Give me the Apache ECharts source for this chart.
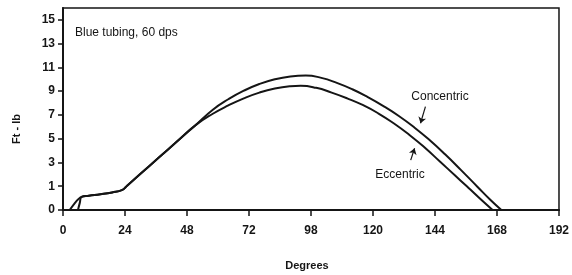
<!DOCTYPE html>
<html>
<head>
<meta charset="utf-8">
<script src="https://cdn.jsdelivr.net/npm/echarts@6/dist/echarts.min.js"></script>
<style>
  html, body { margin: 0; padding: 0; background: #fff; }
  #main { width: 572px; height: 275px; }
</style>
</head>
<body>
<div id="main"></div>
<script>
// start of each curve (degrees / ft-lb)
var concStartDeg = [5.8, 6.5];
var concStartFt = [0, 0.3];
var eccStartDeg = [2.6, 4.5, 5.8];
var eccStartFt = [0, 0.28, 0.44];
// shared part before the two curves split
var riseDeg = [7.2, 10, 14.5, 19, 23, 24.6, 30, 37.1, 44, 51.2];
var riseFt = [0.55, 0.6, 0.66, 0.74, 0.85, 1.0, 2.05, 3.41, 4.74, 6.12];
// after the split
var concDeg = [58, 64, 70, 76, 82, 88, 94, 100, 106, 112, 118, 124, 130, 136, 142, 148, 154, 160.5, 165.5, 169.7];
var concFt = [7.44, 8.32, 9.04, 9.6, 10.0, 10.24, 10.32, 10.12, 9.7, 9.16, 8.5, 7.75, 6.91, 5.95, 4.87, 3.67, 2.38, 0.97, 0.42, 0];
var eccDeg = [58, 64, 70, 76, 82, 88, 92, 98, 104, 110, 116, 122, 128, 134, 140, 146, 152, 155.9, 158.6, 161.7, 166.3];
var eccFt = [7.1, 7.8, 8.4, 8.88, 9.22, 9.41, 9.45, 9.28, 8.88, 8.4, 7.84, 7.14, 6.3, 5.34, 4.26, 3.06, 1.86, 1.08, 0.77, 0.45, 0];

var xTickLabels = { 96: '98' };   // the original print labels the 96 tick "98"
var yTickLabels = ['0', '1', '3', '5', '7', '9', '11', '13', '15'];

// the y scale is stretched below 1 (0 and 1 are a full tick apart)
function toAxis(v) { return v <= 1 ? v * 2 : v + 1; }

function build(d1, v1, d2, v2) {
  var deg = d1.concat(riseDeg, d2), ft = v1.concat(riseFt, v2);
  return deg.map(function (d, i) { return [d, toAxis(ft[i])]; });
}

var ink = '#151515';
var font = 'Liberation Sans, Arial, sans-serif';

var chart = echarts.init(document.getElementById('main'));
chart.setOption({
  animation: false,
  backgroundColor: '#fff',
  grid: { left: 63, right: 8, top: 8, bottom: 65, show: true, borderColor: ink, borderWidth: 1.5, backgroundColor: 'transparent' },
  xAxis: {
    type: 'value', min: 0, max: 192, interval: 24,
    axisLine: { lineStyle: { color: ink, width: 2 } },
    axisTick: { length: 6, lineStyle: { color: ink, width: 1.5 } },
    axisLabel: {
      margin: 15, color: ink, fontSize: 12, fontWeight: 'bold', fontFamily: font,
      formatter: function (v) { return xTickLabels[v] || String(v); }
    },
    splitLine: { show: false }
  },
  yAxis: {
    type: 'value', min: 0, max: 17,
    axisLine: { show: true, lineStyle: { color: ink, width: 2 } },
    axisTick: { show: true, length: 5, customValues: [0, 2, 4, 6, 8, 10, 12, 14, 16], lineStyle: { color: ink, width: 1.5 } },
    axisLabel: {
      margin: 8, color: ink, fontSize: 12, fontWeight: 'bold', fontFamily: font,
      customValues: [0, 2, 4, 6, 8, 10, 12, 14, 16],
      formatter: function (v) { return yTickLabels[v / 2]; }
    },
    splitLine: { show: false }
  },
  series: [
    {
      name: 'Concentric', type: 'line', showSymbol: false, smooth: 0.5,
      lineStyle: { color: ink, width: 2 },
      data: build(concStartDeg, concStartFt, concDeg, concFt),
      markLine: {
        silent: true, symbol: ['none', 'arrow'], symbolSize: 6,
        lineStyle: { color: ink, width: 1.2, type: 'solid' }, label: { show: false },
        data: [[{ coord: [140.3, 8.7] }, { coord: [138.4, 7.3] }]]
      }
    },
    {
      name: 'Eccentric', type: 'line', showSymbol: false, smooth: 0.5,
      lineStyle: { color: ink, width: 2 },
      data: build(eccStartDeg, eccStartFt, eccDeg, eccFt),
      markLine: {
        silent: true, symbol: ['none', 'arrow'], symbolSize: 6,
        lineStyle: { color: ink, width: 1.2, type: 'solid' }, label: { show: false },
        data: [[{ coord: [134.6, 4.2] }, { coord: [136.1, 5.2] }]]
      }
    }
  ],
  graphic: [
    { type: 'text', left: 75, top: 27, style: { text: 'Blue tubing, 60 dps', fill: ink, font: '12px ' + font } },
    { type: 'text', x: 440, y: 97, style: { text: 'Concentric', fill: ink, font: '12px ' + font, align: 'center', verticalAlign: 'middle' } },
    { type: 'text', x: 400, y: 175, style: { text: 'Eccentric', fill: ink, font: '12px ' + font, align: 'center', verticalAlign: 'middle' } },
    { type: 'text', x: 307, y: 266, style: { text: 'Degrees', fill: ink, font: 'bold 11px ' + font, align: 'center', verticalAlign: 'middle' } },
    { type: 'text', x: 17, y: 129, rotation: Math.PI / 2, style: { text: 'Ft - lb', fill: ink, font: 'bold 11px ' + font, align: 'center', verticalAlign: 'middle' } }
  ]
});
</script>
</body>
</html>
